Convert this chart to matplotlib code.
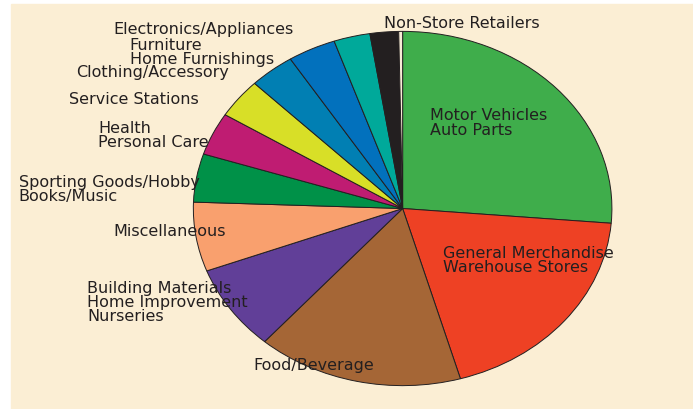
import matplotlib.pyplot as plt

# share of retail sales by kind of business (%), clockwise from 12 o'clock
categories = ['Motor Vehicles\nAuto Parts', 'General Merchandise\nWarehouse Stores',
              'Food/Beverage', 'Building Materials\nHome Improvement\nNurseries',
              'Miscellaneous', 'Sporting Goods/Hobby\nBooks/Music',
              'Health\nPersonal Care', 'Service Stations', 'Clothing/Accessory',
              'Furniture\nHome Furnishings', 'Electronics/Appliances',
              'Non-Store Retailers', '']
values = [26.3, 19.2, 15.9, 7.8, 6.3, 4.4, 3.9, 3.6, 3.5, 3.7, 2.8, 2.2, 0.3]
colors = ['#3fad4b', '#ee4124', '#a56636', '#613f98', '#f9a06e', '#009148',
          '#bf1c72', '#d8df27', '#017fb3', '#0271bd', '#00a99a', '#231f20',
          '#f7ecd6']

# where each label sits (figure fraction, left edge / vertical centre)
label_pos = [(0.620, 0.700), (0.639, 0.365), (0.366, 0.108), (0.126, 0.262),
             (0.163, 0.435), (0.027, 0.538), (0.142, 0.669), (0.099, 0.757),
             (0.110, 0.823), (0.187, 0.872), (0.163, 0.927), (0.554, 0.942), None]

bg = '#fbeed4'
ink = '#231f20'

fig = plt.figure(figsize=(6.93, 4.10), dpi=100)
fig.patch.set_facecolor('white')
# cream panel (thin white margin on top and left)
fig.patches.append(plt.Rectangle((11 / 693, 0), 1, 1 - 5 / 410,
                                 transform=fig.transFigure, color=bg, zorder=-10))

ax = fig.add_axes([0.279, 0.057, 0.604, 0.864])
ax.pie(values, colors=colors, startangle=90, counterclock=False,
       wedgeprops=dict(edgecolor=ink, linewidth=0.7))
ax.set_aspect('auto')
ax.set_xlim(-1, 1)
ax.set_ylim(-1, 1)
ax.axis('off')

for name, pos in zip(categories, label_pos):
    if pos is None:
        continue
    fig.text(pos[0], pos[1], name, ha='left', va='center', fontsize=11.5,
             color=ink, family='DejaVu Sans', linespacing=0.95, zorder=5)

plt.savefig('out.png', dpi=100, facecolor=fig.get_facecolor())
